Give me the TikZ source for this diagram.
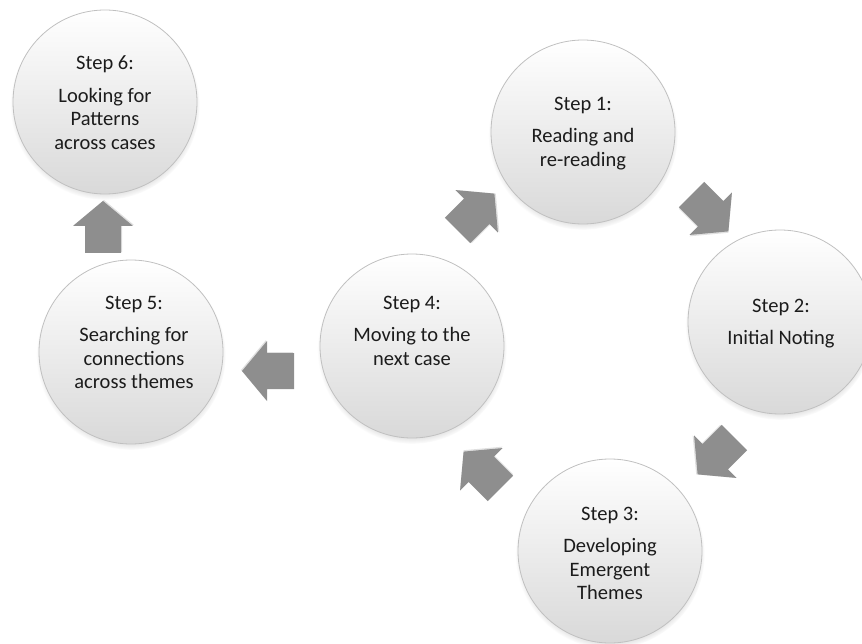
\documentclass[tikz,border=0pt]{standalone}
\usepackage{fontspec}
\setmainfont{Carlito}
\usetikzlibrary{shadows}
\definecolor{ringline}{HTML}{C0C0C0}
\definecolor{arrowgray}{HTML}{8E8E8E}
\definecolor{inkgray}{HTML}{1C1C1C}
\tikzset{
  stepcircle/.style={circle, minimum size=184pt, inner sep=0pt,
    draw=ringline, line width=0.8pt,
    top color=white, middle color=white, bottom color=black!15,
    circular drop shadow={shadow xshift=0pt, shadow yshift=-3pt,
      shadow scale=1.03, opacity=0.45}},
  steptext/.style={anchor=north, align=center, inner sep=0pt,
    font=\fontsize{20.5}{23.5}\selectfont, text=inkgray},
  blockarrow/.pic={
    \fill[black, opacity=0.12] (-25,-17) -- (2,-17) -- (2,-29) -- (27,1)
      -- (2,31) -- (2,19) -- (-25,19) -- cycle;
    \fill[arrowgray] (-26,-18) -- (1,-18) -- (1,-30) -- (26,0)
      -- (1,30) -- (1,18) -- (-26,18) -- cycle;}
}
\begin{document}
\begin{tikzpicture}[x=1pt, y=-1pt]
  \useasboundingbox (0,0) rectangle (862,644);

  % the six steps
  \node[stepcircle] (s1) at (583,132) {};
  \node[stepcircle] (s2) at (780,322) {};
  \node[stepcircle] (s3) at (610,551) {};
  \node[stepcircle] (s4) at (412,346) {};
  \node[stepcircle] (s5) at (131,352) {};
  \node[stepcircle] (s6) at (105,102) {};

  \node[steptext] (t1) at (583,96.5) {Step 1:\\[9pt]Reading and\\re-reading};
  \node[steptext] (t2) at (781,298.5) {Step 2:\\[9pt]Initial Noting};
  \node[steptext] (t3) at (610,506.5) {Step 3:\\[9pt]Developing\\Emergent\\Themes};
  \node[steptext] (t4) at (412,295.5) {Step 4:\\[9pt]Moving to the\\next case};
  \node[steptext] (t5) at (134,295.5) {Step 5:\\[9pt]Searching for\\connections\\across themes};
  \node[steptext] (t6) at (105,55.5) {Step 6:\\[9pt]Looking for\\Patterns\\across cases};

  % block arrows between the steps
  \pic[rotate=45]   (a41) at (476,212) {blockarrow};
  \pic[rotate=-45]  (a12) at (710,213) {blockarrow};
  \pic[rotate=-135] (a23) at (716,456) {blockarrow};
  \pic[rotate=135]  (a34) at (482,470) {blockarrow};
  \pic[rotate=180]  (a45) at (268,371) {blockarrow};
  \pic[rotate=90]   (a56) at (103,227) {blockarrow};
\end{tikzpicture}
\end{document}
